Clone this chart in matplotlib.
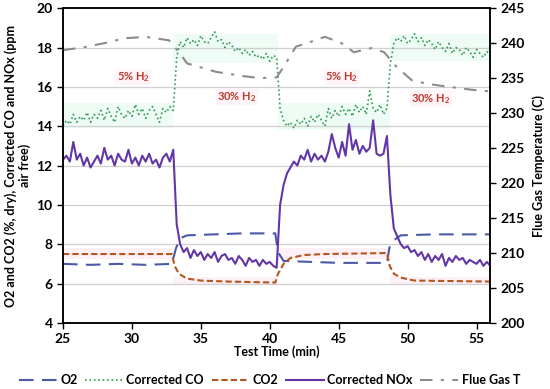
import numpy as np
import matplotlib
matplotlib.use("Agg")
import matplotlib.pyplot as plt

plt.rcParams['font.family'] = ['Lato', 'DejaVu Sans']
plt.rcParams['font.weight'] = 'bold'
plt.rcParams['axes.labelweight'] = 'bold'
plt.rcParams['mathtext.fontset'] = 'custom'
plt.rcParams['mathtext.rm'] = 'Lato:bold'
plt.rcParams['mathtext.it'] = 'Lato:bold'
plt.rcParams['mathtext.bf'] = 'Lato:bold'

###############################################################################
# Data

# noisy signals sampled every 0.25 min from 25 to 56
t_fast = np.arange(25, 56.001, 0.25)

nox = ([12.3, 12.5, 12.2, 13.2, 12.3, 12.6, 12.0, 12.4, 11.9, 12.2, 12.5, 12.1,
        12.9, 12.3, 12.5, 12.0, 12.6, 12.3, 12.2, 12.8, 12.1, 12.4, 12.0, 12.5,
        12.2, 12.6, 12.1, 12.3, 11.9, 12.4, 12.6, 12.2, 12.8]
       + [9.0, 8.0, 7.6, 7.8, 7.3, 7.7, 7.4, 7.6, 7.2, 7.5, 7.3, 7.6, 7.1, 7.4,
          7.5, 7.2, 7.3, 7.0, 7.4, 7.2, 6.9, 7.3, 7.1, 7.2, 6.9, 7.2, 7.0, 7.1,
          6.9, 6.8]
       + [10.0, 11.0, 11.6, 11.9, 12.2, 12.0, 12.5, 12.3, 12.8, 12.2, 12.6, 12.3,
          12.5, 12.2, 12.7, 13.6, 12.9, 12.4, 13.2, 12.5, 14.1, 12.8, 13.3, 12.6,
          13.0, 12.7, 12.9, 14.3, 12.6, 12.5, 12.6, 13.5]
       + [10.5, 8.8, 8.4, 8.0, 7.8, 7.9, 7.6, 7.7, 7.4, 7.6, 7.2, 7.5, 7.1, 7.4,
          7.2, 7.5, 6.9, 7.3, 7.1, 7.4, 7.2, 7.3, 7.0, 7.2, 7.1, 7.0, 7.2, 6.9,
          7.1, 6.9])

co = ([14.0, 14.3, 14.1, 14.6, 14.2, 14.5, 14.3, 14.7, 14.2, 14.6, 14.4, 14.8,
       14.3, 14.9, 14.5, 14.2, 15.0, 14.6, 14.4, 14.8, 14.5, 15.1, 14.6, 14.9,
       14.4, 14.8, 15.0, 14.6, 14.2, 14.9, 14.7, 15.0, 14.8]
      + [17.5, 18.3, 18.0, 18.5, 18.2, 18.4, 18.1, 18.6, 18.3, 18.2, 18.5, 18.8,
         18.3, 18.4, 18.0, 18.3, 18.1, 17.8, 18.0, 17.7, 17.9, 17.6, 17.8, 17.5,
         17.6, 17.4, 17.7, 17.3, 17.6, 17.5]
      + [14.9, 14.3, 14.0, 14.2, 13.9, 14.3, 14.1, 14.4, 14.0, 14.5, 14.2, 14.6,
         14.3, 14.0, 14.9, 14.4, 14.8, 14.5, 15.0, 14.6, 14.9, 14.5, 15.1, 14.7,
         15.0, 14.6, 15.8, 14.9, 14.7, 15.1, 14.6, 14.9]
      + [17.2, 18.2, 18.5, 18.3, 18.6, 18.2, 18.4, 18.7, 18.3, 18.5, 18.1, 18.4,
         18.2, 17.9, 18.3, 18.0, 17.8, 18.2, 17.7, 18.0, 17.9, 17.6, 18.0, 17.8,
         17.5, 17.9, 17.7, 17.5, 17.8, 17.6])

assert len(t_fast) == len(nox) == len(co)

# smooth signals
t_o2 = [25, 27, 29, 31, 32.9, 33.2, 33.5, 34.0, 36, 38, 40.4, 40.6, 41.0, 43, 45,
        48.5, 48.7, 49.0, 49.5, 52, 56]
o2 = [7.0, 6.95, 7.0, 6.95, 7.0, 7.8, 8.3, 8.45, 8.5, 8.55, 8.55, 7.6, 7.15, 7.1,
      7.05, 7.05, 7.9, 8.2, 8.45, 8.5, 8.5]

t_co2 = [25, 32.9, 33.1, 33.4, 34, 35, 37, 40.4, 40.6, 41, 41.5, 42.5, 44, 48.5,
         48.7, 49.0, 49.5, 50.5, 56]
co2 = [7.5, 7.5, 6.9, 6.5, 6.25, 6.15, 6.1, 6.05, 6.5, 7.0, 7.3, 7.45, 7.5, 7.55,
       6.9, 6.5, 6.3, 6.15, 6.1]

t_flue = [25, 26.5, 28, 29.5, 31, 32.7, 33.5, 34.0, 36.1, 38, 39.3, 40.5, 41.1,
          41.9, 43.0, 44.0, 45.2, 46.1, 47.4, 48.3, 49.2, 50.3, 51.4, 52.8, 54.8, 56.0]
flue = [239.0, 239.4, 240.0, 240.7, 240.9, 240.4, 238.5, 237.1, 235.9, 235.3, 235.0,
        235.1, 236.9, 239.5, 240.2, 240.9, 240.0, 238.7, 239.3, 238.7, 236.6, 234.7,
        234.2, 233.8, 233.3, 233.1]

# faint highlight bands behind CO and CO2
t_band = [25, 33, 33, 40.6, 40.6, 48.7, 48.7, 56]
co_lo = [13.9, 13.9, 17.2, 17.2, 13.8, 13.8, 17.3, 17.3]
co_hi = [15.2, 15.2, 18.7, 18.7, 15.2, 15.2, 18.7, 18.7]
co2_lo = [7.25, 7.25, 5.9, 5.9, 7.25, 7.25, 5.9, 5.9]
co2_hi = [7.8, 7.8, 6.35, 6.35, 7.8, 7.8, 6.35, 6.35]

labels_h2 = ["5% H$_2$", "30% H$_2$", "5% H$_2$", "30% H$_2$"]
labels_x = [30.1, 37.6, 45.2, 51.7]
labels_y = [16.5, 15.5, 16.5, 15.4]

###############################################################################
# Plot

fig = plt.figure(figsize=(5.5, 3.89), dpi=100)
ax = fig.add_axes([0.1145, 0.170, 0.777, 0.809])
ax2 = ax.twinx()

ax.fill_between(t_band, co_lo, co_hi, color='#effbf5', lw=0, zorder=0)
ax.fill_between(t_band, co2_lo, co2_hi, color='#fdf0f6', lw=0, zorder=0)

l_o2, = ax.plot(t_o2, o2, color='#4a5aa8', lw=1.5, dashes=(7, 4), label='O2')
l_co, = ax.plot(t_fast, co, color='#2f9a52', lw=1.2, ls=':', label='Corrected CO')
l_co2, = ax.plot(t_co2, co2, color='#b4561f', lw=1.5, dashes=(3, 1.5), label='CO2')
l_nox, = ax.plot(t_fast, nox, color='#6236a6', lw=1.5, label='Corrected NOx')
l_flue, = ax2.plot(t_flue, flue, color='#8c8c8c', lw=1.5, dashes=(6, 4, 1.5, 4),
                   label='Flue Gas T')

for s, x, y in zip(labels_h2, labels_x, labels_y):
    ax.text(x, y, s, color='#c0392b', fontsize=8, fontweight='bold',
            ha='center', va='center',
            bbox=dict(facecolor='#fff4f8', edgecolor='none', pad=1))

ax.set_xlim(25, 56)
ax.set_ylim(4, 20)
ax.set_xticks(np.arange(25, 56, 5))
ax.set_yticks(np.arange(4, 21, 2))
ax2.set_ylim(200, 245)
ax2.set_yticks(np.arange(200, 246, 5))

ax.yaxis.grid(True, color='#d0d0d0', lw=0.9)
ax.set_axisbelow(True)

for a in (ax, ax2):
    a.tick_params(direction='out', length=4, width=1, labelsize=10)
    for lab in a.get_xticklabels() + a.get_yticklabels():
        lab.set_fontweight('bold')
    for sp in a.spines.values():
        sp.set_linewidth(1.1)

ax.set_xlabel('Test Time (min)', fontsize=9, fontweight='bold', labelpad=0)
ax.set_ylabel('O2 and CO2 (%, dry), Corrected CO and NOx (ppm\nair free)',
              fontsize=9, fontweight='bold', linespacing=1.1, labelpad=4)
ax2.set_ylabel('Flue Gas Temperature (C)', fontsize=9, fontweight='bold',
               labelpad=5)

leg = fig.legend(handles=[l_o2, l_co, l_co2, l_nox, l_flue], loc='center',
                 bbox_to_anchor=(0.49, 0.022), ncol=5, frameon=False,
                 prop={'size': 9, 'weight': 'bold'},
                 handlelength=3, columnspacing=0.6, handletextpad=0.3)

fig.savefig('out.png', dpi=100)
